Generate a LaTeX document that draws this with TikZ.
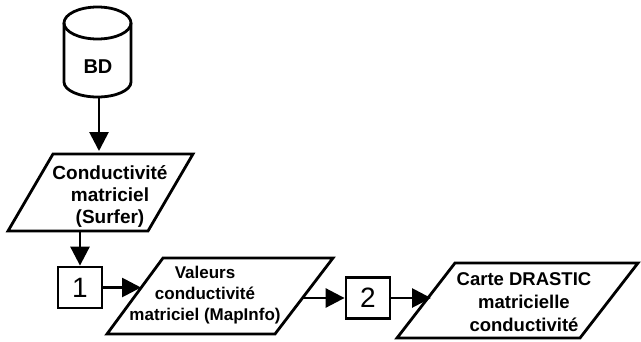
\documentclass[tikz,border=0pt]{standalone}
\usepackage{fontspec}
\setmainfont{Liberation Sans}
\usetikzlibrary{arrows.meta}
\tikzset{
  shp/.style={line width=2.8pt, line join=miter},
  conn/.style={line width=2.8pt, -{Triangle[length=19pt,width=19pt]}},
  lbl/.style={align=center, inner sep=0pt, font=\bfseries},
  numbox/.style={draw, line width=2.8pt, minimum width=44pt, minimum height=41pt, inner sep=0pt, font=\fontsize{28}{30}\selectfont}
}
\begin{document}
\begin{tikzpicture}[x=1pt,y=-1pt]
\useasboundingbox (0,0) rectangle (641,341);
% cylinder
\draw[shp] (64,23) -- (64,82) arc[start angle=180,end angle=0,x radius=33.5,y radius=15] -- (131,23);
\draw[shp] (97.5,23) ellipse[x radius=33.5,y radius=16];
\node[lbl, font=\bfseries\fontsize{20}{22}\selectfont] (bd) at (98,67) {BD};
\coordinate (bdbot) at (99,97);
% parallelogram 1
\draw[shp] (53,154) -- (193,154) -- (148,231) -- (8,231) -- cycle;
\node[lbl, font=\bfseries\fontsize{19}{22}\selectfont] (p1) at (110,196) {Conductivité\\matriciel\\(Surfer)};
\coordinate (p1top) at (99,151);
\coordinate (p1bot) at (80,231);
% box 1
\node[numbox] (b1) at (80,287.5) {1};
% parallelogram 2
\draw[shp] (163,258) -- (333,258) -- (275,334) -- (107,334) -- cycle;
\node[lbl, font=\bfseries\fontsize{17}{21}\selectfont] (p2) at (205,295) {Valeurs\\conductivité\\matriciel (MapInfo)};
\coordinate (p2in) at (141,287.5);
\coordinate (p2out) at (303,298);
% box 2
\node[numbox] (b2) at (368,298) {2};
% parallelogram 3
\draw[shp] (455,263) -- (638,263) -- (580,338) -- (397,338) -- cycle;
\node[lbl, font=\bfseries\fontsize{18.5}{23}\selectfont] (p3) at (524,302) {Carte DRASTIC\\matricielle\\conductivité};
\coordinate (p3in) at (431,298);
% connectors
\draw[conn] (bdbot) -- (p1top);
\draw[conn] (p1bot) -- (b1.north);
\draw[conn] (b1.east) -- (p2in);
\draw[conn] (p2out) -- (b2.west);
\draw[conn] (b2.east) -- (p3in);
\end{tikzpicture}
\end{document}
